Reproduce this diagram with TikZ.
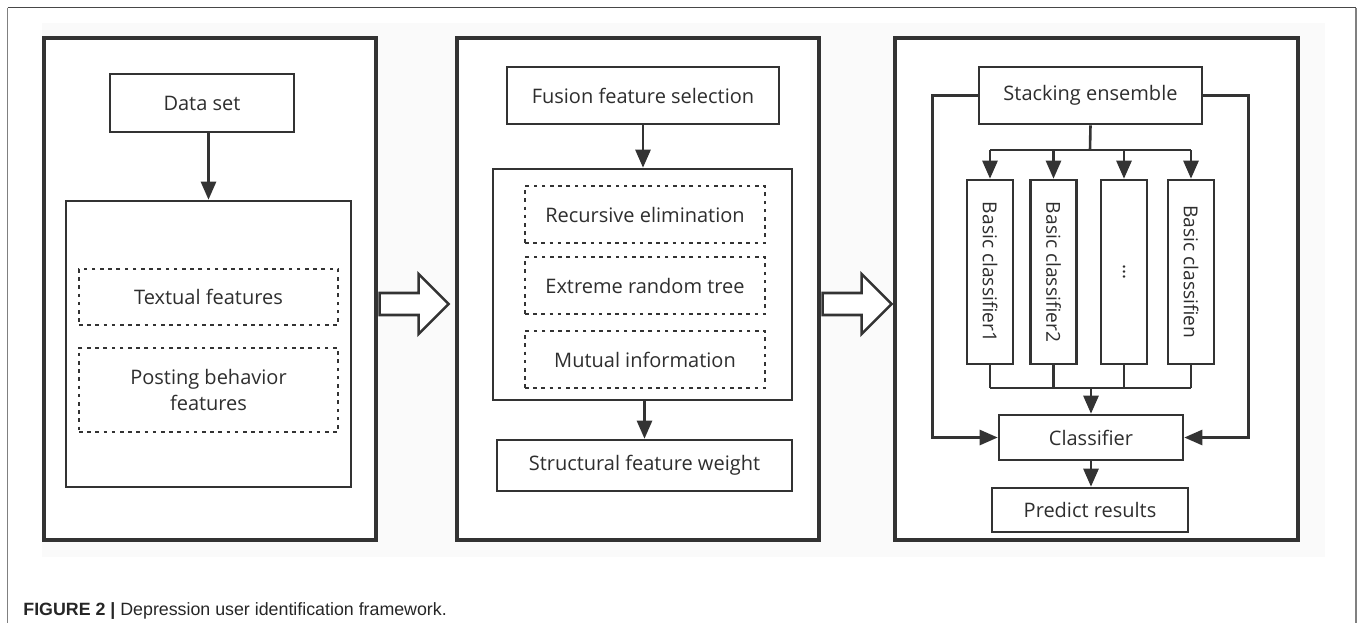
\documentclass[tikz,border=0pt]{standalone}
\usepackage{fontspec}
\setmainfont{Open Sans}
\newfontfamily\captionfont{Liberation Sans}
\usetikzlibrary{positioning, arrows.meta, calc}
\definecolor{linegray}{HTML}{333333}
\definecolor{textgray}{HTML}{2E2E2E}
\definecolor{bggray}{HTML}{FAFAFA}

\begin{document}
\begin{tikzpicture}[
    x=0.5pt, y=-0.5pt,
    % Node styles
    panel/.style={draw=linegray, line width=1.6pt, inner sep=0pt, fill=white},
    mainbox/.style={
        draw=linegray, line width=1.3pt, inner sep=0pt, align=center,
        font=\fontsize{10}{12.8}\selectfont, text=textgray
    },
    dotbox/.style={mainbox, line width=1.3pt, dash pattern=on 1.8pt off 2.3pt},
    colbox/.style={mainbox, minimum width=23pt, minimum height=92pt,
        font=\fontsize{9.6}{11}\selectfont},
    % Arrow styles
    arrow/.style={-{Triangle[length=9pt, width=7.5pt]}, draw=linegray, line width=1.3pt},
    plainline/.style={draw=linegray, line width=1.3pt},
    hollowarrow/.style={draw=linegray, line width=1.3pt, fill=white, line join=miter},
]

\useasboundingbox (0,0) rectangle (1357,623);

% ============================================================
% FRAME AND BACKGROUND
% ============================================================
\fill[bggray] (42,23) rectangle (1325,557);
\draw[black!72, line width=0.8pt] (7.5,7.5) -- (1356,7.5);
\draw[black!50, line width=0.8pt] (7.5,7.5) -- (7.5,623);
\draw[black!50, line width=0.8pt] (1356,7.5) -- (1356,623);

% --- Three panels ---
\node[panel, minimum width=166pt, minimum height=251pt] (panA) at (210,289) {};
\node[panel, minimum width=181pt, minimum height=251pt] (panB) at (638,289) {};
\node[panel, minimum width=201.5pt, minimum height=251pt] (panC) at (1096.5,289) {};

% ============================================================
% PANEL A: data
% ============================================================
\node[mainbox, minimum width=92pt, minimum height=29pt] (data) at (202,103) {Data set};
\node[mainbox, minimum width=142.5pt, minimum height=143pt] (featA) at (208.5,344) {};
\node[dotbox, minimum width=129.5pt, minimum height=28pt] (textual) at (208.5,297) {Textual features};
\node[dotbox, minimum width=129.5pt, minimum height=42pt] (posting) at (208.5,390)
    {Posting behavior\\features};

\draw[arrow] (featA.north |- data.south) -- (featA.north);

% ============================================================
% PANEL B: feature selection
% ============================================================
\node[mainbox, minimum width=136pt, minimum height=28.5pt] (fusion) at (643,95.5) {Fusion feature selection};
\node[mainbox, minimum width=149.5pt, minimum height=115.5pt] (featB) at (642.5,284.5) {};
\node[dotbox, minimum width=120pt, minimum height=28.5pt] (recur) at (645,214.5) {Recursive elimination};
\node[dotbox, minimum width=120pt, minimum height=28.5pt] (extree) at (645,285.5) {Extreme random tree};
\node[dotbox, minimum width=120pt, minimum height=28.5pt] (mutual) at (645,359.5) {Mutual information};
\node[mainbox, minimum width=147.5pt, minimum height=25.5pt] (struct) at (644.5,465.5) {Structural feature weight};

\draw[arrow] (fusion.south) -- (fusion.south |- featB.north);
\draw[arrow] (struct.north |- featB.south) -- (struct.north);

% ============================================================
% PANEL C: stacking ensemble
% ============================================================
\node[mainbox, minimum width=111.5pt, minimum height=28.5pt] (stack) at (1090.5,95.5) {Stacking ensemble};
\node[colbox] (col1) at (990,272) {\rotatebox{-90}{Basic classifier1}};
\node[colbox] (col2) at (1053.5,272) {\rotatebox{-90}{Basic classifier2}};
\node[colbox] (col3) at (1124,272) {\rotatebox{-90}{\dots}};
\node[colbox] (col4) at (1191,272) {\rotatebox{-90}{Basic classifien}};
\node[mainbox, minimum width=92pt, minimum height=22.5pt] (clf) at (1091,437.5) {Classifier};
\node[mainbox, minimum width=98pt, minimum height=22pt] (pred) at (1090,510) {Predict results};

\coordinate (split) at (1090,150);
\coordinate (merge) at (1091,388);

% branch to the base classifiers
\draw[plainline] (stack.south) -- (split);
\draw[plainline] (split -| col1.north) -- (split -| col4.north);
\foreach \c in {col1,col2,col3,col4}
    \draw[arrow] (split -| \c.north) -- (\c.north);

% collect into the meta classifier
\foreach \c in {col1,col2,col3,col4}
    \draw[plainline] (\c.south) -- (merge -| \c.south);
\draw[plainline] (merge -| col1.south) -- (merge -| col4.south);
\draw[arrow] (merge) -- (clf.north);

% side paths
\draw[arrow] (stack.west) -- ++(-45,0) |- (clf.west);
\draw[arrow] (stack.east) -- ++(45,0) |- (clf.east);
\draw[arrow] (clf.south) -- (clf.south |- pred.north);

% ============================================================
% HOLLOW ARROWS BETWEEN PANELS
% ============================================================
\foreach \p in {panA,panB}
    \draw[hollowarrow] ($(\p.east)+(2,4)$) -- ++(39,0) -- ++(0,-19) -- ++(30,30)
        -- ++(-30,30) -- ++(0,-19) -- ++(-39,0) -- cycle;

% ============================================================
% CAPTION
% ============================================================
\node[anchor=west, inner sep=0pt, text=black!85, font=\captionfont\fontsize{8.9}{10}\selectfont]
    (caption) at (23,611) {{\bfseries FIGURE 2 |} Depression user identification framework.};

\end{tikzpicture}
\end{document}
